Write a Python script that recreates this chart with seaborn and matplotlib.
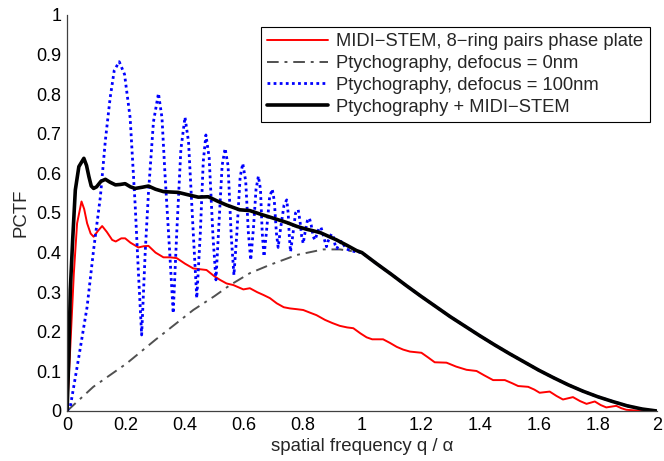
import pandas as pd
import matplotlib
matplotlib.use("Agg")
import matplotlib.pyplot as plt
import seaborn as sns

# Хвост после q/alpha = 1, общий для чёрной и серой кривой
tail_q = [1.05, 1.1, 1.15, 1.2, 1.25, 1.3, 1.35, 1.4, 1.45, 1.5, 1.55, 1.6, 1.65, 1.7,
          1.75, 1.8, 1.85, 1.9, 1.95, 2.0]
tail_v = [0.372, 0.345, 0.317, 0.290, 0.264, 0.238, 0.214, 0.190, 0.167, 0.145, 0.124,
          0.103, 0.084, 0.066, 0.050, 0.036, 0.024, 0.013, 0.005, 0.0]

# MIDI-STEM, 8-ring pairs phase plate (красная)
midi_q = [0.0, 0.011, 0.023, 0.034, 0.049, 0.058, 0.068, 0.080, 0.090, 0.105, 0.119, 0.135,
          0.153, 0.165, 0.184, 0.197, 0.215, 0.242, 0.260, 0.276, 0.300, 0.327, 0.350, 0.372,
          0.400, 0.428, 0.450, 0.473, 0.500, 0.519, 0.541, 0.564, 0.598, 0.620, 0.645, 0.666,
          0.688, 0.711, 0.735, 0.756, 0.780, 0.801, 0.825, 0.846, 0.875, 0.900, 0.925, 0.950,
          0.971, 0.995, 1.016, 1.035, 1.072, 1.095, 1.118, 1.140, 1.163, 1.202, 1.225, 1.247,
          1.287, 1.320, 1.355, 1.389, 1.415, 1.445, 1.485, 1.510, 1.530, 1.564, 1.585, 1.603,
          1.637, 1.660, 1.682, 1.716, 1.740, 1.762, 1.790, 1.810, 1.829, 1.863, 1.880, 1.897,
          1.950, 2.0]
midi_v = [0.0, 0.162, 0.348, 0.474, 0.529, 0.510, 0.474, 0.448, 0.440, 0.455, 0.467, 0.452,
          0.432, 0.428, 0.436, 0.436, 0.425, 0.413, 0.416, 0.417, 0.400, 0.388, 0.388, 0.386,
          0.372, 0.360, 0.358, 0.356, 0.340, 0.331, 0.322, 0.318, 0.307, 0.310, 0.300, 0.293,
          0.285, 0.272, 0.262, 0.259, 0.257, 0.255, 0.248, 0.242, 0.230, 0.222, 0.215, 0.211,
          0.209, 0.196, 0.186, 0.181, 0.181, 0.172, 0.162, 0.155, 0.150, 0.147, 0.135, 0.123,
          0.122, 0.112, 0.104, 0.101, 0.090, 0.078, 0.078, 0.070, 0.063, 0.061, 0.054, 0.046,
          0.049, 0.038, 0.029, 0.035, 0.025, 0.018, 0.024, 0.015, 0.009, 0.013, 0.007, 0.003,
          0.0, 0.0]

# Ptychography, defocus = 0nm (серая штрих-пунктир)
pty0_q = [0.0, 0.089, 0.202, 0.300, 0.428, 0.500, 0.553, 0.620, 0.688, 0.779, 0.869, 0.925,
          0.982, 1.0] + tail_q
pty0_v = [0.0, 0.061, 0.120, 0.180, 0.255, 0.290, 0.318, 0.348, 0.369, 0.394, 0.408, 0.408,
          0.402, 0.400] + tail_v

# Ptychography, defocus = 100nm (синяя пунктирная)
pty100_q = [0.0, 0.011, 0.040, 0.068, 0.090, 0.113, 0.130, 0.146, 0.160, 0.177, 0.195, 0.214,
            0.231, 0.242, 0.253, 0.265, 0.276, 0.293, 0.310, 0.322, 0.332, 0.349, 0.360, 0.372,
            0.386, 0.400, 0.412, 0.428, 0.440, 0.452, 0.462, 0.471, 0.482, 0.495, 0.505, 0.515,
            0.526, 0.536, 0.546, 0.557, 0.566, 0.576, 0.587, 0.596, 0.606, 0.615, 0.623, 0.632,
            0.641, 0.649, 0.656, 0.662, 0.668, 0.676, 0.687, 0.696, 0.703, 0.710, 0.716, 0.724,
            0.736, 0.745, 0.750, 0.754, 0.758, 0.765, 0.775, 0.784, 0.790, 0.796, 0.801, 0.807,
            0.815, 0.822, 0.828, 0.835, 0.841, 0.847, 0.854, 0.861, 0.867, 0.874, 0.880, 0.886,
            0.892, 0.897, 0.903, 0.909, 0.915, 0.922, 0.930, 0.938, 0.946, 0.960, 0.980,
            1.0] + tail_q
pty100_v = [0.0, 0.011, 0.137, 0.263, 0.407, 0.541, 0.684, 0.790, 0.860, 0.882, 0.850, 0.740,
            0.520, 0.350, 0.192, 0.400, 0.550, 0.730, 0.802, 0.740, 0.600, 0.390, 0.247, 0.450,
            0.660, 0.742, 0.680, 0.450, 0.285, 0.450, 0.630, 0.697, 0.640, 0.440, 0.331, 0.470,
            0.620, 0.663, 0.620, 0.440, 0.343, 0.450, 0.590, 0.625, 0.580, 0.450, 0.381, 0.460,
            0.560, 0.593, 0.560, 0.450, 0.390, 0.450, 0.540, 0.560, 0.530, 0.450, 0.413, 0.460,
            0.520, 0.533, 0.500, 0.440, 0.402, 0.440, 0.500, 0.508, 0.480, 0.440, 0.423, 0.450,
            0.480, 0.487, 0.470, 0.440, 0.432, 0.445, 0.460, 0.464, 0.450, 0.430, 0.415, 0.430,
            0.440, 0.447, 0.440, 0.420, 0.410, 0.420, 0.428, 0.420, 0.410, 0.405, 0.402,
            0.400] + tail_v

# Ptychography + MIDI-STEM (чёрная)
comb_q = [0.0, 0.006, 0.011, 0.019, 0.028, 0.040, 0.057, 0.066, 0.074, 0.082, 0.090, 0.100,
          0.115, 0.130, 0.145, 0.164, 0.180, 0.197, 0.215, 0.231, 0.255, 0.276, 0.300, 0.327,
          0.350, 0.377, 0.410, 0.445, 0.479, 0.510, 0.541, 0.586, 0.620, 0.660, 0.699, 0.745,
          0.780, 0.812, 0.835, 0.860, 0.914, 0.950, 0.982, 1.0] + tail_q
comb_v = [0.0, 0.137, 0.306, 0.432, 0.558, 0.617, 0.638, 0.620, 0.592, 0.568, 0.562, 0.566,
          0.580, 0.585, 0.578, 0.571, 0.572, 0.574, 0.566, 0.562, 0.565, 0.568, 0.560, 0.554,
          0.553, 0.552, 0.546, 0.540, 0.541, 0.530, 0.520, 0.508, 0.506, 0.496, 0.487, 0.476,
          0.466, 0.459, 0.455, 0.450, 0.432, 0.418, 0.405, 0.400] + tail_v

labels = ["MIDI\u2212STEM, 8\u2212ring pairs phase plate",
          "Ptychography, defocus = 0nm",
          "Ptychography, defocus = 100nm",
          "Ptychography + MIDI\u2212STEM"]

sns.set_style("white")
plt.rcParams['font.family'] = ['Liberation Sans', 'DejaVu Sans']

fig = plt.figure(figsize=(6.64, 4.61), dpi=100)
ax = fig.add_axes([0.101, 0.1085, 0.888, 0.859])

sns.lineplot(x=midi_q, y=midi_v, ax=ax, color="#ff0000", lw=1.4, sort=False,
             estimator=None, label=labels[0])
sns.lineplot(x=pty0_q, y=pty0_v, ax=ax, color="#505050", lw=1.4, sort=False,
             estimator=None, label=labels[1], linestyle=(0, (6, 3, 1.5, 3)))
sns.lineplot(x=pty100_q, y=pty100_v, ax=ax, color="#0000ff", lw=2.0, sort=False,
             estimator=None, label=labels[2], linestyle=(0, (1.0, 1.2)))
sns.lineplot(x=comb_q, y=comb_v, ax=ax, color="black", lw=2.6, sort=False,
             estimator=None, label=labels[3])

ax.set_xlim(0, 2)
ax.set_ylim(0, 1)
ax.set_xticks([0, 0.2, 0.4, 0.6, 0.8, 1, 1.2, 1.4, 1.6, 1.8, 2])
ax.set_xticklabels(["0", "0.2", "0.4", "0.6", "0.8", "1", "1.2", "1.4", "1.6", "1.8", "2"])
ax.set_yticks([0, 0.1, 0.2, 0.3, 0.4, 0.5, 0.6, 0.7, 0.8, 0.9, 1])
ax.set_yticklabels(["0", "0.1", "0.2", "0.3", "0.4", "0.5", "0.6", "0.7", "0.8", "0.9", "1"])
ax.tick_params(direction="in", length=5, width=0.8, color="#404040", labelsize=13,
               labelcolor="black", pad=4)
for s in ["top", "right"]:
    ax.spines[s].set_visible(False)
for s in ["left", "bottom"]:
    ax.spines[s].set_color("#404040")
    ax.spines[s].set_linewidth(0.9)

ax.set_xlabel("spatial frequency q / \u03b1", fontsize=13.4, labelpad=3)
ax.set_ylabel("PCTF", fontsize=13.4, labelpad=5)

leg = ax.legend(loc="upper right", bbox_to_anchor=(0.988, 0.97), borderaxespad=0,
                fontsize=13.2, handlelength=3.3, handletextpad=0.45, labelspacing=0.26,
                borderpad=0.35, fancybox=False, framealpha=1, edgecolor="black")
leg.get_frame().set_linewidth(0.8)

fig.savefig("out.png", dpi=100)
